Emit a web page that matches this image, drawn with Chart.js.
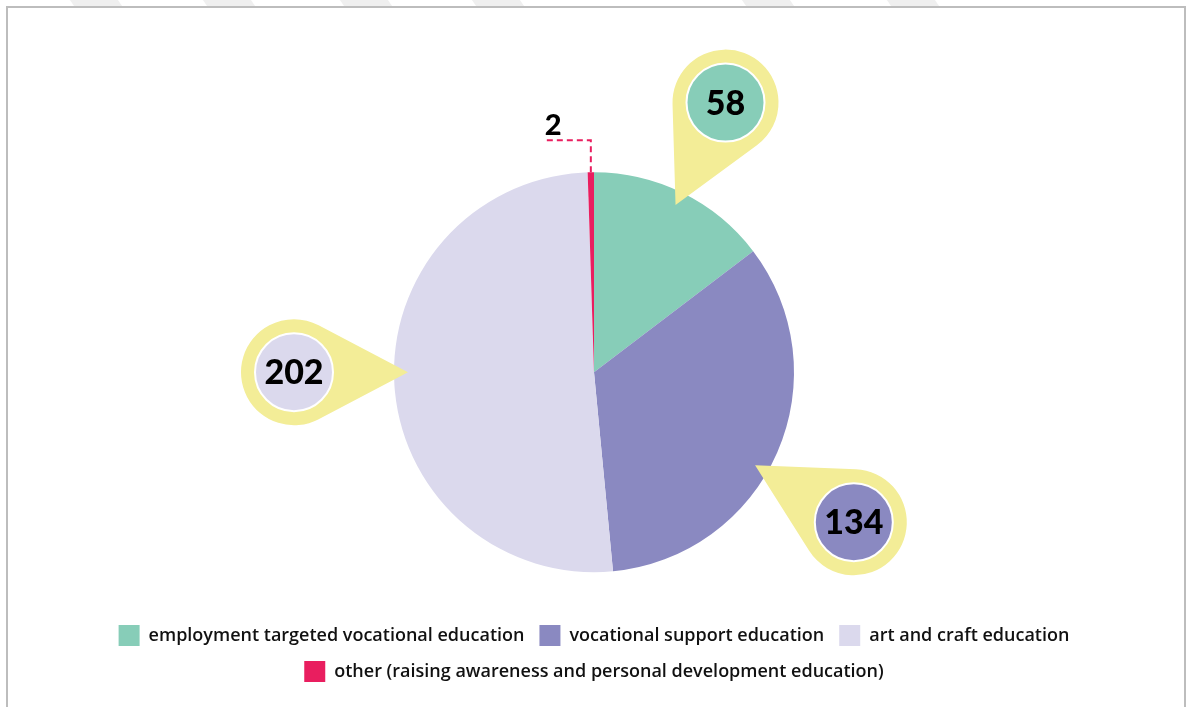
<!DOCTYPE html>
<html>
<head>
<meta charset="utf-8">
<title>Education types</title>
<script src="https://cdn.jsdelivr.net/npm/chart.js@4.4.0/dist/chart.umd.min.js"></script>
<style>
  body { margin: 0; background: #fff; overflow: hidden; }
  .band { position: absolute; top: 0; height: 6px; width: 48px; background: #efefef; transform: skewX(35deg); }
  .frame { position: absolute; left: 6px; top: 6px; width: 1176px; height: 720px; border: 2px solid #bdbdbd; }
  .wrap { position: absolute; left: 8px; top: 8px; width: 1178px; height: 699px; }
</style>
</head>
<body>
<div class="band" style="left:72px"></div>
<div class="band" style="left:205px"></div>
<div class="band" style="left:342px"></div>
<div class="band" style="left:474px"></div>
<div class="band" style="left:744px"></div>
<div class="band" style="left:889px"></div>
<div class="frame"></div>
<div class="wrap"><canvas id="myChart"></canvas></div>

<script>
var categories = [
  'employment targeted vocational education',
  'vocational support education',
  'art and craft education',
  'other (raising awareness and personal development education)'
];
var values = [58, 134, 202, 2];
var sliceColors = ['#87cdb8', '#8a89c1', '#dbd9ed', '#e91e5f'];
// direction of each pin, degrees clockwise from 12 o'clock; null = small slice with a leader line
var calloutAngles = [26, 120, 270, null];

var labelFont = '900 34px Lato';

function drawPin(ctx, cx, cy, tx, ty, color, text) {
  var R = 53, r = 39;
  var d = Math.hypot(tx - cx, ty - cy);
  var beta = Math.atan2(ty - cy, tx - cx);
  var g = Math.acos(R / d);

  ctx.beginPath();
  ctx.moveTo(tx, ty);
  ctx.arc(cx, cy, R, beta + g, beta - g, false);
  ctx.closePath();
  ctx.fillStyle = '#f3ed97';
  ctx.fill();

  ctx.beginPath();
  ctx.arc(cx, cy, r, 0, Math.PI * 2);
  ctx.fillStyle = color;
  ctx.fill();
  ctx.lineWidth = 2;
  ctx.strokeStyle = '#ffffff';
  ctx.stroke();

  ctx.fillStyle = '#000';
  ctx.font = labelFont;
  ctx.textAlign = 'center';
  ctx.textBaseline = 'middle';
  ctx.fillText(text, cx, cy + 1);
}

function drawLeader(ctx, arc, text) {
  var mid = (arc.startAngle + arc.endAngle) / 2;
  var ex = arc.x + Math.cos(mid) * arc.outerRadius;
  var ey = arc.y + Math.sin(mid) * arc.outerRadius;
  var ly = ey - 32, lx = ex - 47;

  ctx.save();
  ctx.beginPath();
  ctx.setLineDash([6, 4]);
  ctx.lineWidth = 2;
  ctx.strokeStyle = '#e91e5f';
  ctx.moveTo(ex, ey);
  ctx.lineTo(ex, ly);
  ctx.lineTo(lx, ly);
  ctx.stroke();
  ctx.restore();

  ctx.fillStyle = '#000';
  ctx.font = '900 29px Lato';
  ctx.textAlign = 'left';
  ctx.textBaseline = 'alphabetic';
  ctx.fillText(text, lx + 1, ly - 5);
}

var calloutPlugin = {
  id: 'callouts',
  afterDatasetsDraw: function(chart, args, opts) {
    var ctx = chart.ctx;
    var meta = chart.getDatasetMeta(0);
    var data = chart.data.datasets[0].data;
    ctx.save();
    meta.data.forEach(function(arc, i) {
      var a = opts.angles[i];
      var text = String(data[i]);
      if (a === null) {
        drawLeader(ctx, arc, text);
        return;
      }
      var t = a * Math.PI / 180;
      var R = arc.outerRadius;
      var cx = arc.x + Math.sin(t) * R * opts.distance;
      var cy = arc.y - Math.cos(t) * R * opts.distance;
      var tx = arc.x + Math.sin(t) * R * opts.tip;
      var ty = arc.y - Math.cos(t) * R * opts.tip;
      drawPin(ctx, cx, cy, tx, ty, sliceColors[i], text);
    });
    ctx.restore();
  }
};

function printPie() {
  var ctx = document.getElementById('myChart').getContext('2d');
  var myChart = new Chart(ctx, {
    type: 'pie',
    data: {
      labels: categories,
      datasets: [{
        data: values,
        backgroundColor: sliceColors,
        borderWidth: 0,
        radius: 200
      }]
    },
    options: {
      responsive: true,
      maintainAspectRatio: false,
      animation: false,
      layout: {
        padding: { top: 126.5, bottom: 15, left: 0, right: 6 }
      },
      plugins: {
        tooltip: { enabled: false },
        legend: {
          position: 'bottom',
          labels: {
            boxWidth: 21,
            boxHeight: 21,
            padding: 15,
            color: '#111',
            font: { family: 'Open Sans', size: 18, weight: '600' }
          }
        },
        callouts: {
          angles: calloutAngles,
          distance: 1.5,
          tip: 0.93
        }
      }
    },
    plugins: [calloutPlugin]
  });
}

printPie();
</script>
</body>
</html>
